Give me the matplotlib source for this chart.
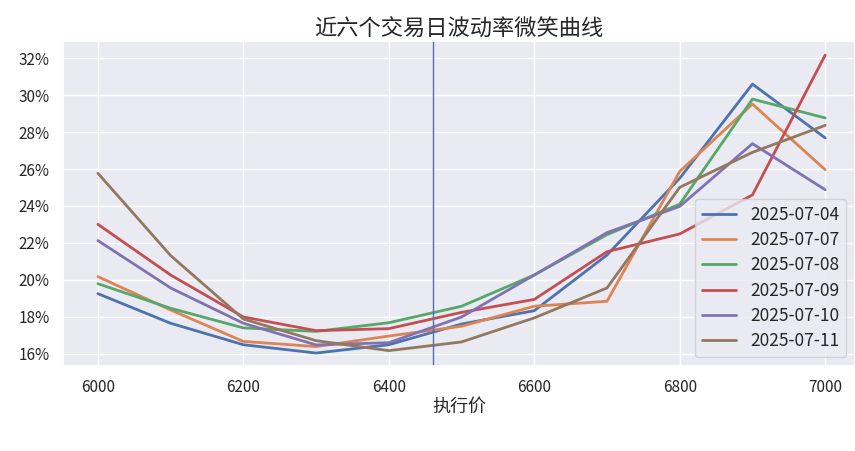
import matplotlib
matplotlib.use("Agg")
import matplotlib.pyplot as plt
import matplotlib.ticker as mticker
import seaborn as sns

# 执行价
strikes = [6000, 6100, 6200, 6300, 6400, 6500, 6600, 6700, 6800, 6900, 7000]

# 各交易日隐含波动率 (%)
iv_0704 = [19.26, 17.66, 16.50, 16.05, 16.50, 17.62, 18.34, 21.35, 25.50, 30.59, 27.68]
iv_0707 = [20.18, 18.38, 16.68, 16.40, 16.97, 17.50, 18.58, 18.85, 25.87, 29.51, 25.96]
iv_0708 = [19.80, 18.47, 17.41, 17.22, 17.69, 18.58, 20.27, 22.45, 24.10, 29.78, 28.76]
iv_0709 = [23.01, 20.27, 18.00, 17.26, 17.37, 18.25, 18.95, 21.53, 22.49, 24.60, 32.16]
iv_0710 = [22.13, 19.57, 17.66, 16.49, 16.61, 18.00, 20.27, 22.56, 23.98, 27.37, 24.88]
iv_0711 = [25.77, 21.32, 17.89, 16.72, 16.18, 16.65, 17.95, 19.57, 25.01, 26.90, 28.36]

dates = ["2025-07-04", "2025-07-07", "2025-07-08", "2025-07-09", "2025-07-10", "2025-07-11"]
series = [iv_0704, iv_0707, iv_0708, iv_0709, iv_0710, iv_0711]

spot = 6461  # 标的现价

sns.set_theme(style="darkgrid")
plt.rcParams['font.family'] = ['Noto Sans CJK SC', 'DejaVu Sans']
plt.rcParams['axes.unicode_minus'] = False

fig = plt.figure(figsize=(8.55, 4.51), dpi=100)
ax = fig.add_axes([63 / 855, 85 / 451, 792 / 855, 325 / 451])

for d, s in zip(dates, series):
    ax.plot(strikes, s, label=d, linewidth=2)

ax.axvline(spot, color='#4C72B0', linewidth=1)

ax.set_xlim(5952, 7041)
ax.set_ylim(15.35, 32.92)
ax.yaxis.set_major_locator(mticker.MultipleLocator(2))
ax.yaxis.set_major_formatter(mticker.FuncFormatter(lambda v, p: f"{v:.0f}%"))
ax.tick_params(labelsize=11)
ax.set_xlabel("执行价", fontsize=13, labelpad=1)
ax.set_title("近六个交易日波动率微笑曲线", fontsize=16, pad=4)
ax.legend(loc='lower right', fontsize=12.5, labelspacing=0.42)

fig.savefig("out.png", dpi=100)
